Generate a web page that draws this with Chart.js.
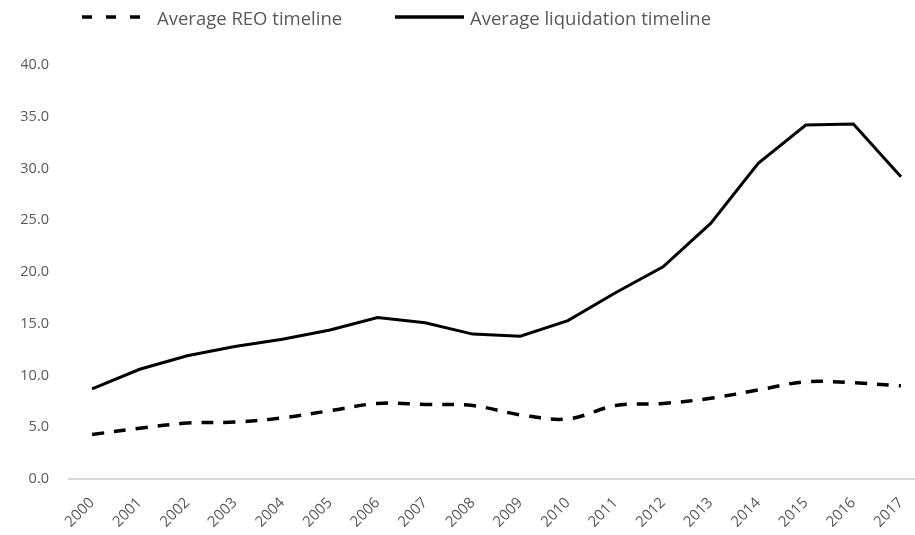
<!DOCTYPE html>
<html>
<head>
<meta charset="utf-8">
<script src="https://cdn.jsdelivr.net/npm/chart.js@4.4.0/dist/chart.umd.min.js"></script>
<style>
  body { margin: 0; background: #fff; }
  #wrap { position: relative; width: 915px; height: 535px; }
  .legend { position: absolute; top: 3px; left: 0; height: 28px; font-family: "Open Sans", sans-serif; font-size: 18.5px; color: #595959; }
  .legend .item { position: absolute; top: 0; display: flex; align-items: center; height: 28px; white-space: nowrap; }
</style>
</head>
<body>
<div id="wrap">
  <canvas id="chart" width="915" height="535"></canvas>
  <div class="legend">
    <div class="item" style="left:81px">
      <svg width="62" height="6" style="margin-right:14px"><line x1="1" y1="3" x2="61" y2="3" stroke="#000" stroke-width="3.5" stroke-dasharray="10,14"/></svg>
      <span>Average REO timeline</span>
    </div>
    <div class="item" style="left:394px">
      <svg width="70" height="6" style="margin-right:6px"><line x1="1" y1="3" x2="70" y2="3" stroke="#000" stroke-width="3.5"/></svg>
      <span>Average liquidation timeline</span>
    </div>
  </div>
</div>
<script>
var years = ['2000', '2001', '2002', '2003', '2004', '2005', '2006', '2007', '2008',
	'2009', '2010', '2011', '2012', '2013', '2014', '2015', '2016', '2017'];
var reoTimeline = [4.3, 4.9, 5.4, 5.5, 5.9, 6.6, 7.3, 7.2, 7.1, 6.2, 5.8, 7.1, 7.3, 7.8, 8.6, 9.4, 9.3, 9.0];
var liquidationTimeline = [8.7, 10.6, 11.9, 12.8, 13.5, 14.4, 15.6, 15.1, 14.0, 13.8, 15.3, 18.0, 20.5, 24.7, 30.5, 34.2, 34.3, 29.2];
var yTicks = [0, 5, 10, 15, 20, 25, 30, 35, 40];

var tickFont = { family: '"Open Sans", sans-serif', size: 14.5 };

new Chart(document.getElementById('chart'), {
	type: 'line',
	data: {
		labels: years,
		datasets: [
			{
				label: 'Average REO timeline',
				data: reoTimeline,
				borderColor: '#000',
				borderWidth: 3.5,
				borderDash: [12, 10],
				tension: 0.35,
				pointRadius: 0,
				fill: false
			},
			{
				label: 'Average liquidation timeline',
				data: liquidationTimeline,
				borderColor: '#000',
				borderWidth: 3,
				tension: 0,
				pointRadius: 0,
				fill: false
			}
		]
	},
	options: {
		responsive: false,
		animation: false,
		layout: { padding: { top: 65, left: 21, right: 0, bottom: 0 } },
		plugins: {
			legend: { display: false },
			tooltip: { enabled: false }
		},
		scales: {
			// years on a linear axis so the plot can run past the right edge
			x: {
				type: 'linear',
				min: 1999.515,
				max: 2017.295,
				grid: { display: false, drawTicks: false },
				border: { color: '#d9d9d9', width: 2 },
				afterBuildTicks: function (axis) {
					axis.ticks = years.map(function (y) { return { value: +y }; });
				},
				afterFit: function (axis) {
					axis.paddingLeft = 0;
					axis.paddingRight = 0;
					axis.height = 56;
				},
				ticks: {
					color: '#595959',
					font: { family: '"Open Sans", sans-serif', size: 15 },
					maxRotation: 45,
					minRotation: 45,
					padding: 15,
					autoSkip: false,
					callback: function (v) { return String(v); }
				}
			},
			y: {
				min: 0,
				max: 40,
				afterBuildTicks: function (axis) {
					axis.ticks = yTicks.map(function (v) { return { value: v }; });
				},
				afterFit: function (axis) {
					axis.width = 48;
				},
				grid: { display: false, drawTicks: false },
				border: { display: false },
				ticks: {
					color: '#595959',
					font: tickFont,
					padding: 20,
					callback: function (v) { return v.toFixed(1); }
				}
			}
		}
	}
});
</script>
</body>
</html>
